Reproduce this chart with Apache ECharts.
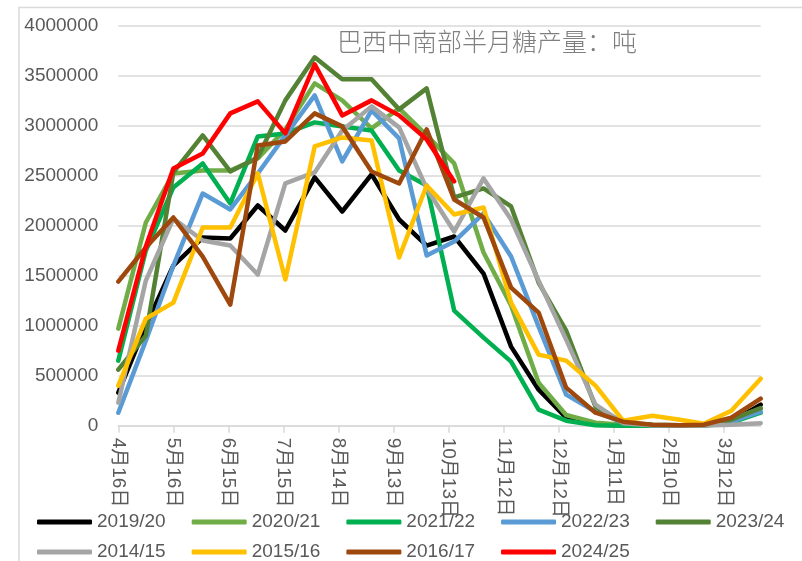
<!DOCTYPE html>
<html>
<head>
<meta charset="utf-8">
<script src="https://cdn.jsdelivr.net/npm/echarts@6/dist/echarts.min.js"></script>
<style>html,body{margin:0;padding:0;background:#fff}#c{width:802px;height:561px}</style>
</head>
<body>
<div id="c"></div>
<script>
// Half-month periods (month-day), season runs from mid-April to the next April
const periods = ['4-16','5-1','5-16','6-1','6-16','7-1','7-16','8-1','8-16','9-1','9-16','10-1',
                 '10-16','11-1','11-16','12-1','12-16','1-1','1-16','2-1','2-16','3-1','3-16','4-1'];
const tickLabels = ['4月16日','5月16日','6月15日','7月15日','8月14日','9月13日','10月13日',
                    '11月12日','12月12日','1月11日','2月10日','3月12日'];
const tickStepDays = 30;

const seriesNames = ['2019/20','2020/21','2021/22','2022/23','2023/24','2014/15','2015/16','2016/17','2024/25'];
const seriesColors = ['#000000','#70AD47','#00B050','#5B9BD5','#548235','#A5A5A5','#FFC000','#9E480E','#FF0000'];

const s2019 = [330000,1000000,1600000,1880000,1870000,2200000,1950000,2480000,2140000,2510000,2060000,1800000,1890000,1520000,790000,360000,80000,10000,5000,3000,2000,5000,40000,210000];
const s2020 = [970000,2030000,2520000,2550000,2550000,2670000,2960000,3420000,3250000,2970000,3170000,2900000,2620000,1730000,1200000,430000,107000,30000,10000,5000,3000,5000,60000,170000];
const s2021 = [650000,1750000,2380000,2620000,2220000,2890000,2920000,3030000,2990000,2950000,2550000,2400000,1150000,880000,640000,160000,50000,5000,0,0,0,0,30000,130000];
const s2022 = [130000,850000,1600000,2320000,2160000,2520000,2900000,3300000,2640000,3150000,2870000,1700000,1840000,2120000,1690000,990000,310000,140000,30000,5000,3000,5000,40000,140000];
const s2023 = [560000,900000,2530000,2900000,2540000,2680000,3250000,3680000,3460000,3460000,3160000,3370000,2280000,2370000,2190000,1430000,950000,190000,30000,10000,5000,5000,60000,175000];
const s2014 = [230000,1450000,2070000,1850000,1800000,1510000,2420000,2530000,2950000,3190000,2980000,2370000,1940000,2470000,2060000,1450000,860000,210000,25000,5000,3000,3000,10000,25000];
const s2015 = [400000,1070000,1230000,1980000,1980000,2520000,1460000,2790000,2880000,2850000,1680000,2400000,2110000,2180000,1230000,710000,650000,400000,50000,100000,60000,20000,150000,470000];
const s2016 = [1440000,1780000,2080000,1690000,1210000,2800000,2840000,3120000,2990000,2540000,2420000,2960000,2260000,2080000,1380000,1130000,380000,130000,40000,10000,5000,10000,80000,270000];
const s2024 = [750000,1790000,2570000,2720000,3120000,3240000,2920000,3610000,3100000,3250000,3100000,2860000,2440000];

const seriesValues = [s2019,s2020,s2021,s2022,s2023,s2014,s2015,s2016,s2024];

const DAY = 86400000;
function dayOf(p){
  const parts = p.split('-');
  const m = parseInt(parts[0], 10), d = parseInt(parts[1], 10);
  const firstYear = (m > 4) || (m === 4 && d >= 16);
  const year = firstYear ? 2021 : 2022;
  return Math.round((Date.UTC(year, m - 1, d) - Date.UTC(2021, 3, 16)) / DAY);
}
const xDays = periods.map(dayOf);
const tickDays = tickLabels.map(function(_, i){ return i * tickStepDays; });

const FONT = "'Liberation Sans','Noto Sans CJK SC',sans-serif";
const chart = echarts.init(document.getElementById('c'), null, {renderer: 'canvas'});

const series = seriesNames.map(function(n, k){
  return {
    name: n,
    type: 'line',
    symbol: 'none',
    data: seriesValues[k].map(function(v, i){ return [xDays[i], v]; }),
    lineStyle: {width: 4.5, color: seriesColors[k], cap: 'round', join: 'round'},
    itemStyle: {color: seriesColors[k]},
    z: 2 + k
  };
});

function legendOpt(top, names){
  return {
    left: 32, top: top, orient: 'horizontal', icon: 'roundRect', itemWidth: 55, itemHeight: 5,
    itemGap: 26,
    textStyle: {fontFamily: FONT, fontSize: 19, color: '#595959', lineHeight: 22},
    data: names
  };
}

chart.setOption({
  backgroundColor: '#fff',
  animation: false,
  title: {
    text: '巴西中南部半月糖产量：吨', left: 332, top: 24,
    textStyle: {fontFamily: "'Noto Sans CJK SC',sans-serif", fontSize: 25, fontWeight: 300, color: '#7f7f7f'}
  },
  graphic: [{
    type: 'rect', shape: {x: 19, y: 7.5, width: 900, height: 700},
    style: {fill: 'none', stroke: '#d9d9d9', lineWidth: 1.5}, silent: true, z: -1
  }],
  legend: [legendOpt(506, seriesNames.slice(0, 5)), legendOpt(536, seriesNames.slice(5))],
  grid: {left: 118.3, right: 41.3, top: 25.3, bottom: 135.3, containLabel: false},
  xAxis: {
    type: 'value', min: 0, max: xDays[xDays.length - 1],
    axisLine: {show: true, lineStyle: {color: '#d9d9d9', width: 1.5}},
    axisTick: {show: true, length: 7, lineStyle: {color: '#d9d9d9', width: 1.5}, customValues: tickDays},
    splitLine: {show: false},
    axisLabel: {
      customValues: tickDays, rotate: -90, margin: 12,
      fontFamily: FONT, fontSize: 19, color: '#595959',
      formatter: function(v){ return tickLabels[Math.round(v / tickStepDays)] || ''; }
    }
  },
  yAxis: {
    type: 'value', min: 0, max: 4000000, interval: 500000,
    axisLine: {show: false}, axisTick: {show: false},
    splitLine: {lineStyle: {color: '#d9d9d9', width: 1.5}},
    axisLabel: {margin: 20, fontFamily: FONT, fontSize: 19, color: '#595959',
      formatter: function(v){ return String(v); }}
  },
  series: series
});
</script>
</body>
</html>
